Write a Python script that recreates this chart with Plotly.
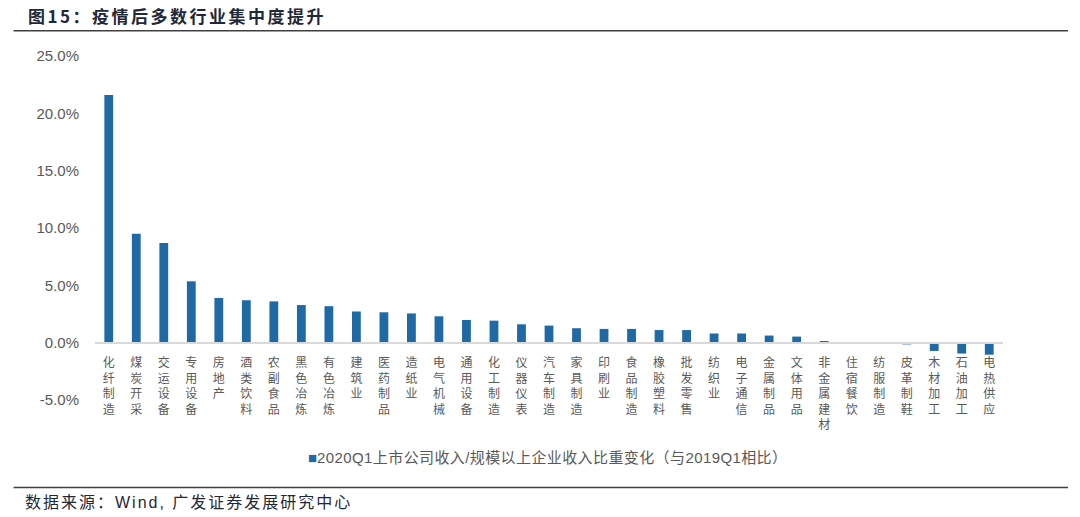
import plotly.graph_objects as go

categories = ["化纤制造", "煤炭开采", "交运设备", "专用设备", "房地产", "酒类饮料", "农副食品",
              "黑色冶炼", "有色冶炼", "建筑业", "医药制品", "造纸业", "电气机械", "通用设备",
              "化工制造", "仪器仪表", "汽车制造", "家具制造", "印刷业", "食品制造", "橡胶塑料",
              "批发零售", "纺织业", "电子通信", "金属制品", "文体用品", "非金属建材", "住宿餐饮",
              "纺服制造", "皮革制鞋", "木材加工", "石油加工", "电热供应"]
values_pct = [21.6, 9.5, 8.7, 5.35, 3.9, 3.7, 3.6,
              3.28, 3.18, 2.72, 2.65, 2.55, 2.3, 1.98,
              1.92, 1.6, 1.49, 1.26, 1.2, 1.2, 1.1,
              1.1, 0.8, 0.8, 0.62, 0.53, 0.12, 0.02,
              0.01, -0.15, -0.72, -0.95, -1.05]
y_ticks = [-0.05, 0.0, 0.05, 0.10, 0.15, 0.20, 0.25]
y_tick_labels = ["-5.0%", "0.0%", "5.0%", "10.0%", "15.0%", "20.0%", "25.0%"]
series_name = "2020Q1上市公司收入/规模以上企业收入比重变化（与2019Q1相比）"
title_text = "图15：疫情后多数行业集中度提升"
source_text = "数据来源：Wind, 广发证券发展研究中心"

BAR = "#1F6AA5"
GRAY = "#595959"
FONT = "Liberation Sans, Noto Sans CJK SC, sans-serif"

values = [v / 100 for v in values_pct]
vert_labels = ["<br>".join(list(c)) for c in categories]

W, H = 1080, 517
L, R, T, B = 94.5, 77, 56, 117
pw, ph = W - L - R, H - T - B

def px_x(x):
    return (x - L) / pw

def px_y(y):
    return (H - B - y) / ph

fig = go.Figure()
fig.add_trace(go.Bar(x=categories, y=values, marker=dict(color=BAR, line=dict(width=0)),
                     name=series_name, showlegend=False))

fig.update_layout(
    width=W, height=H,
    margin=dict(l=L, r=R, t=T, b=B, autoexpand=False),
    paper_bgcolor="white", plot_bgcolor="white",
    bargap=0.68,
    font=dict(family=FONT, color=GRAY),
    xaxis=dict(
        tickmode="array", tickvals=categories, ticktext=vert_labels,
        tickfont=dict(size=12, color=GRAY, family="Noto Sans CJK SC"),
        anchor="free", position=0.05 / 0.30,
        showline=True, linecolor="#D9D9D9", linewidth=2,
        ticks="", showgrid=False, zeroline=False,
        tickangle=0, ticklabelstandoff=9,
    ),
    yaxis=dict(
        range=[-0.05, 0.25], tickmode="array", tickvals=y_ticks, ticktext=y_tick_labels,
        tickfont=dict(size=15, color=GRAY, family="Liberation Sans"),
        showgrid=False, zeroline=False, showline=False, ticks="",
        ticklabelstandoff=15,
    ),
)

annotations = [
    dict(text="<b><span style='letter-spacing:2.5px'>" + title_text + "</span></b>",
         x=px_x(25), y=px_y(15), xref="paper", yref="paper",
         xanchor="left", yanchor="middle", showarrow=False,
         font=dict(size=17, color="#1F2837", family="Noto Sans CJK SC")),
    dict(text="<span style='color:" + BAR + "'>■</span><span style='letter-spacing:0.4px'>" + series_name + "</span>",
         x=px_x(547), y=px_y(457), xref="paper", yref="paper",
         xanchor="center", yanchor="middle", showarrow=False,
         font=dict(size=15, color=GRAY, family=FONT)),
    dict(text="<span style='letter-spacing:2px'>" + source_text + "</span>",
         x=px_x(22), y=px_y(503), xref="paper", yref="paper",
         xanchor="left", yanchor="middle", showarrow=False,
         font=dict(size=16, color="#1F2837", family=FONT)),
]
fig.update_layout(annotations=annotations)

shapes = [
    dict(type="line", xref="paper", yref="paper", x0=px_x(13), x1=px_x(1068),
         y0=px_y(30.7), y1=px_y(30.7), line=dict(color="#404040", width=1.5)),
    dict(type="line", xref="paper", yref="paper", x0=px_x(13), x1=px_x(1068),
         y0=px_y(487.6), y1=px_y(487.6), line=dict(color="#404040", width=1.5)),
]
fig.update_layout(shapes=shapes)

fig.write_html("out.html", config={"displayModeBar": False},
               post_script="document.body.style.margin='0px';document.body.style.padding='0px';")
